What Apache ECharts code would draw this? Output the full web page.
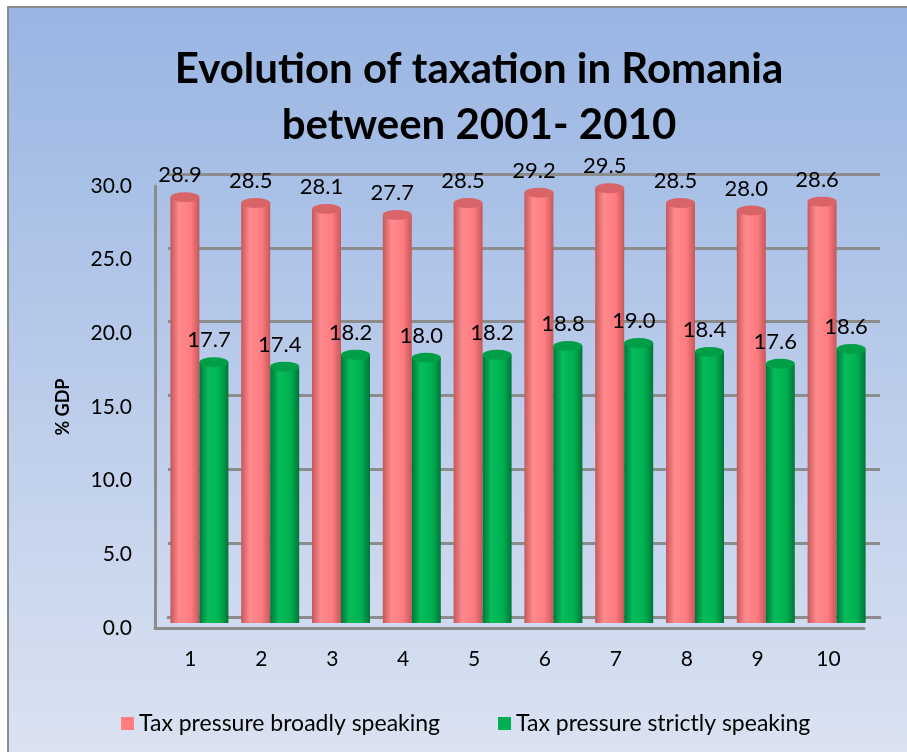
<!DOCTYPE html>
<html>
<head>
<meta charset="utf-8">
<script src="https://cdn.jsdelivr.net/npm/echarts@6/dist/echarts.min.js"></script>
<style>
  html, body { margin: 0; padding: 0; background: #ffffff; }
  #chart { width: 907px; height: 752px; }
</style>
</head>
<body>
<div id="chart"></div>
<script>
// data
const categories = ['1', '2', '3', '4', '5', '6', '7', '8', '9', '10'];
const broadly = [28.9, 28.5, 28.1, 27.7, 28.5, 29.2, 29.5, 28.5, 28.0, 28.6];
const strictly = [17.7, 17.4, 18.2, 18.0, 18.2, 18.8, 19.0, 18.4, 17.6, 18.6];
const yTicks = [0, 5, 10, 15, 20, 25, 30];

const FONT = 'Lato';
const BAR_W = 29;

const chart = echarts.init(document.getElementById('chart'));

// horizontal gradient to fake the cylinder shading
const cyl = (dark, mid, light) => new echarts.graphic.LinearGradient(0, 0, 1, 0, [
    { offset: 0, color: dark },
    { offset: 0.3, color: light },
    { offset: 0.7, color: mid },
    { offset: 1, color: dark }
]);
const redBody = cyl('#c4585b', '#ff7c80', '#ff8a8d');
const greenBody = cyl('#00763a', '#00b050', '#06bd5a');

const labelStyle = {
    show: true, position: 'top', distance: 11, offset: [-5, 0],
    fontFamily: FONT, fontSize: 22, color: '#000',
    formatter: p => p.value.toFixed(1)
};

const option = {
    animation: false,
    textStyle: { fontFamily: FONT },
    graphic: [{
        type: 'rect',
        shape: { x: 8, y: 7, width: 920, height: 770 },
        style: {
            fill: new echarts.graphic.LinearGradient(0, 0, 0, 1, [
                { offset: 0, color: '#99b5e3' },
                { offset: 1, color: '#dde4f2' }
            ]),
            stroke: '#8c8c8c',
            lineWidth: 2
        },
        z: -10
    }],
    title: {
        text: 'Evolution of taxation in Romania\nbetween 2001- 2010',
        left: 474,
        textAlign: 'center',
        top: 36,
        textStyle: {
            fontFamily: FONT,
            fontSize: 42,
            fontWeight: 'bold',
            lineHeight: 56,
            color: '#000'
        }
    },
    legend: {
        top: 707,
        left: 116,
        icon: 'rect',
        itemWidth: 13,
        itemHeight: 13,
        itemGap: 58,
        data: [
            { name: 'Tax pressure broadly speaking', itemStyle: { color: '#ff7c80' } },
            { name: 'Tax pressure strictly speaking', itemStyle: { color: '#00b050' } }
        ],
        textStyle: { fontFamily: FONT, fontSize: 23, color: '#000' }
    },
    grid: [
        // back wall with the gridlines
        { left: 168, right: 27, top: 174, bottom: 135 },
        // front plane: axis lines and labels
        { left: 155, right: 43, top: 186, bottom: 124 },
        // middle depth where the cylinders stand
        { left: 164, right: 35, top: 181, bottom: 129 }
    ],
    xAxis: [{
        gridIndex: 0,
        type: 'category',
        data: categories,
        axisLine: { lineStyle: { color: '#8c8c8c', width: 3 } },
        axisTick: { show: false },
        axisLabel: { show: false }
    }, {
        gridIndex: 1,
        type: 'category',
        data: categories,
        axisLine: { lineStyle: { color: '#8c8c8c', width: 3 } },
        axisTick: { show: false },
        axisLabel: { fontFamily: FONT, fontSize: 21, color: '#000', margin: 21 }
    }, {
        gridIndex: 2,
        type: 'category',
        data: categories,
        show: false
    }],
    yAxis: [{
        gridIndex: 0,
        type: 'value',
        min: yTicks[0],
        max: yTicks[yTicks.length - 1],
        interval: 5,
        axisLine: { show: false },
        axisTick: { show: false },
        axisLabel: { show: false },
        splitLine: { lineStyle: { color: '#8c8c8c', width: 3 } }
    }, {
        gridIndex: 1,
        type: 'value',
        min: yTicks[0],
        max: yTicks[yTicks.length - 1],
        interval: 5,
        name: '% GDP',
        nameLocation: 'middle',
        nameGap: 83,
        nameTextStyle: { fontFamily: FONT, fontSize: 18, fontWeight: 'bold', color: '#000' },
        axisLine: { show: true, lineStyle: { color: '#8c8c8c', width: 3 } },
        axisTick: { show: false },
        splitLine: { show: false },
        axisLabel: {
            fontFamily: FONT, fontSize: 21, color: '#000', margin: 23,
            formatter: v => v.toFixed(1)
        }
    }, {
        gridIndex: 2,
        type: 'value',
        min: yTicks[0],
        max: yTicks[yTicks.length - 1],
        interval: 5,
        show: false,
        splitLine: { show: false }
    }],
    series: [{
        name: 'Tax pressure broadly speaking',
        type: 'bar',
        xAxisIndex: 2,
        yAxisIndex: 2,
        data: broadly,
        barWidth: BAR_W,
        barGap: '0%',
        itemStyle: { color: redBody },
        label: labelStyle,
        z: 2
    }, {
        name: 'Tax pressure strictly speaking',
        type: 'bar',
        xAxisIndex: 2,
        yAxisIndex: 2,
        data: strictly,
        barWidth: BAR_W,
        barGap: '0%',
        itemStyle: { color: greenBody },
        label: labelStyle,
        z: 3
    }, {
        // top caps
        type: 'pictorialBar',
        xAxisIndex: 2, yAxisIndex: 2,
        data: broadly,
        symbol: 'circle',
        symbolSize: [BAR_W, 10],
        symbolPosition: 'end',
        symbolOffset: ['-50%', '-50%'],
        itemStyle: { color: '#d96468' },
        silent: true,
        z: 4
    }, {
        type: 'pictorialBar',
        xAxisIndex: 2, yAxisIndex: 2,
        data: strictly,
        symbol: 'circle',
        symbolSize: [BAR_W, 10],
        symbolPosition: 'end',
        symbolOffset: ['50%', '-50%'],
        itemStyle: { color: '#009e47' },
        silent: true,
        z: 5
    }, {
        // rounded feet
        type: 'pictorialBar',
        xAxisIndex: 2, yAxisIndex: 2,
        data: broadly,
        symbol: 'circle',
        symbolSize: [BAR_W, 10],
        symbolPosition: 'start',
        symbolOffset: ['-50%', '-20%'],
        itemStyle: { color: redBody },
        silent: true,
        z: 2
    }, {
        type: 'pictorialBar',
        xAxisIndex: 2, yAxisIndex: 2,
        data: strictly,
        symbol: 'circle',
        symbolSize: [BAR_W, 10],
        symbolPosition: 'start',
        symbolOffset: ['50%', '-20%'],
        itemStyle: { color: greenBody },
        silent: true,
        z: 3
    }]
};

chart.setOption(option);
</script>
</body>
</html>
